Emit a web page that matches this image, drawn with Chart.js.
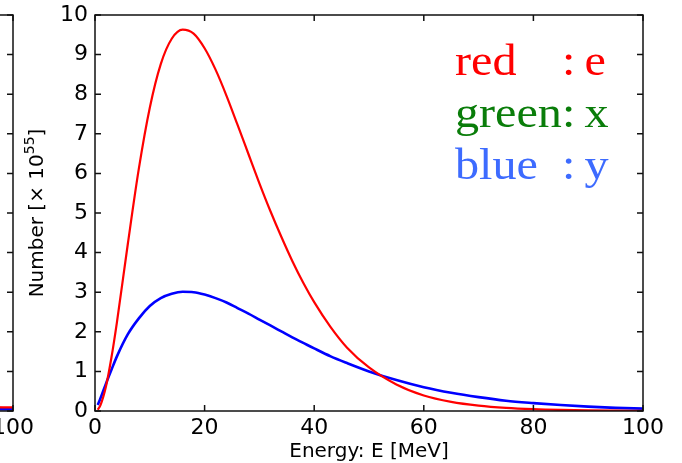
<!DOCTYPE html>
<html>
<head>
<meta charset="utf-8">
<script src="https://cdn.jsdelivr.net/npm/chart.js@4.4.1/dist/chart.umd.min.js"></script>
<style>
  html, body { margin: 0; padding: 0; background: #fff; }
  #wrap { position: relative; width: 682px; height: 463px; overflow: hidden; }
  #leftPane { position: absolute; left: 0; top: 0; width: 60px; height: 463px; overflow: hidden; }
  #leftPane canvas { position: absolute; left: -630px; top: 0; }
  #main { position: absolute; left: 0; top: 0; }
</style>
</head>
<body>
<div id="wrap">
  <div id="leftPane"><canvas id="chartLeft" width="682" height="463"></canvas></div>
  <canvas id="main" width="682" height="463"></canvas>
</div>
<script>
// energy grid [MeV] and spectra [x 10^55]
const energy = [0.5, 1, 2, 3, 4, 6, 8, 10, 12, 14, 16, 18, 20, 22, 24, 26, 28, 30, 32, 34, 36, 38,
                40, 43, 46, 50, 55, 60, 65, 70, 75, 80, 85, 90, 95, 100];
const numE = [0.03, 0.15, 0.62, 1.35, 2.24, 4.23, 6.12, 7.66, 8.76, 9.40, 9.63, 9.53, 9.16, 8.62,
              7.96, 7.23, 6.49, 5.75, 5.05, 4.40, 3.79, 3.24, 2.75, 2.12, 1.60, 1.10, 0.67, 0.39,
              0.23, 0.135, 0.078, 0.045, 0.026, 0.015, 0.009, 0.005];
const numY = [0.15, 0.32, 0.69, 1.04, 1.38, 1.94, 2.34, 2.65, 2.85, 2.96, 3.01, 3.00, 2.94, 2.85,
              2.74, 2.60, 2.46, 2.31, 2.16, 2.01, 1.86, 1.72, 1.58, 1.38, 1.21, 1.00, 0.78, 0.60,
              0.46, 0.35, 0.26, 0.20, 0.15, 0.11, 0.08, 0.06];

// neighbouring panel on the left: only its tail end is visible
const leftEnergy = [90, 95, 100];
const leftE = [0.12, 0.10, 0.09];
const leftY = [0.05, 0.045, 0.04];

const xTicks = [0, 20, 40, 60, 80, 100];
const yTicks = [0, 1, 2, 3, 4, 5, 6, 7, 8, 9, 10];

const legendNames = ['red', 'green', 'blue'];
const legendFlavours = ['e', 'x', 'y'];
const legendColors = ['#ff0000', '#0a7d0a', '#3d6bff'];

const FONT = '"DejaVu Sans", sans-serif';

const toPts = (xs, ys) => xs.map((x, i) => ({ x, y: ys[i] }));

// frame + inward ticks on all four sides
const frameTicks = {
    id: 'frameTicks',
    afterDatasetsDraw(chart) {
        const { ctx, chartArea: a, scales: { x, y } } = chart;
        ctx.save();
        ctx.strokeStyle = '#111';
        ctx.lineWidth = 1.5;
        ctx.beginPath();
        xTicks.forEach(v => {
            const px = x.getPixelForValue(v);
            ctx.moveTo(px, a.bottom); ctx.lineTo(px, a.bottom - 6);
            ctx.moveTo(px, a.top); ctx.lineTo(px, a.top + 6);
        });
        yTicks.forEach(v => {
            const py = y.getPixelForValue(v);
            ctx.moveTo(a.left, py); ctx.lineTo(a.left + 6, py);
            ctx.moveTo(a.right, py); ctx.lineTo(a.right - 6, py);
        });
        ctx.stroke();
        ctx.strokeRect(a.left, a.top, a.right - a.left, a.bottom - a.top);
        ctx.restore();
    }
};

// axis titles and the coloured legend
const labels = {
    id: 'labels',
    afterDraw(chart) {
        const { ctx, chartArea: a } = chart;
        ctx.save();
        ctx.fillStyle = '#000';
        ctx.textBaseline = 'alphabetic';

        // x title
        ctx.font = '20px ' + FONT;
        ctx.textAlign = 'center';
        ctx.fillText('Energy: E [MeV]', (a.left + a.right) / 2, 457);

        // y title with superscript
        ctx.textAlign = 'left';
        const t1 = 'Number [\u00d7 10', t2 = '55', t3 = ']';
        ctx.font = '20px ' + FONT;
        const w1 = ctx.measureText(t1).width, w3 = ctx.measureText(t3).width;
        ctx.font = '14px ' + FONT;
        const w2 = ctx.measureText(t2).width;
        ctx.translate(43, (a.top + a.bottom) / 2);
        ctx.rotate(-Math.PI / 2);
        const x0 = -(w1 + w2 + w3) / 2;
        ctx.font = '20px ' + FONT;
        ctx.fillText(t1, x0, 0);
        ctx.fillText(t3, x0 + w1 + w2, 0);
        ctx.font = '14px ' + FONT;
        ctx.fillText(t2, x0 + w1, -9);
        ctx.restore();

        // legend, slightly widened serif
        ctx.save();
        ctx.font = '45px "Liberation Serif", "Times New Roman", serif';
        ctx.textBaseline = 'alphabetic';
        ctx.textAlign = 'left';
        ctx.translate(455, 0);
        ctx.scale(1.07, 1);
        legendNames.forEach((name, i) => {
            const yb = 75 + i * 52;
            ctx.fillStyle = legendColors[i];
            ctx.fillText(name, 0, yb);
            ctx.fillText(':', 100, yb);
            ctx.fillText(legendFlavours[i], 121, yb);
        });
        ctx.restore();
    }
};

function baseOptions() {
    const tickFont = { family: FONT, size: 22 };
    return {
        responsive: false,
        animation: false,
        events: [],
        layout: { padding: { top: 15, right: 39, bottom: 0, left: 0 } },
        plugins: { legend: { display: false }, tooltip: { enabled: false } },
        scales: {
            x: {
                type: 'linear', min: 0, max: 100,
                grid: { display: false, drawTicks: false },
                border: { display: false },
                ticks: { stepSize: 20, padding: 4, color: '#000', font: tickFont, maxRotation: 0, autoSkip: false },
                afterFit: s => { s.height = 52; s.paddingLeft = 0; s.paddingRight = 0; }
            },
            y: {
                type: 'linear', min: 0, max: 10,
                grid: { display: false, drawTicks: false },
                border: { display: false },
                ticks: { stepSize: 1, padding: 7, color: '#000', font: tickFont, autoSkip: false },
                afterFit: s => { s.width = 95; s.paddingTop = 0; s.paddingBottom = 0; }
            }
        }
    };
}

function lineSet(label, pts, color, width, order) {
    return {
        label, data: pts, borderColor: color, backgroundColor: color,
        borderWidth: width, pointRadius: 0, fill: false,
        cubicInterpolationMode: 'monotone', order
    };
}

new Chart(document.getElementById('chartLeft'), {
    type: 'line',
    data: {
        datasets: [
            lineSet('e', toPts(leftEnergy, leftE), '#ff0000', 2.2, 0),
            lineSet('y', toPts(leftEnergy, leftY), '#0000ff', 2.6, 1)
        ]
    },
    options: baseOptions(),
    plugins: [frameTicks]
});

new Chart(document.getElementById('main'), {
    type: 'line',
    data: {
        datasets: [
            lineSet('e', toPts(energy, numE), '#ff0000', 2.2, 0),
            lineSet('y', toPts(energy, numY), '#0000ff', 2.6, 1)
        ]
    },
    options: baseOptions(),
    plugins: [frameTicks, labels]
});
</script>
</body>
</html>
